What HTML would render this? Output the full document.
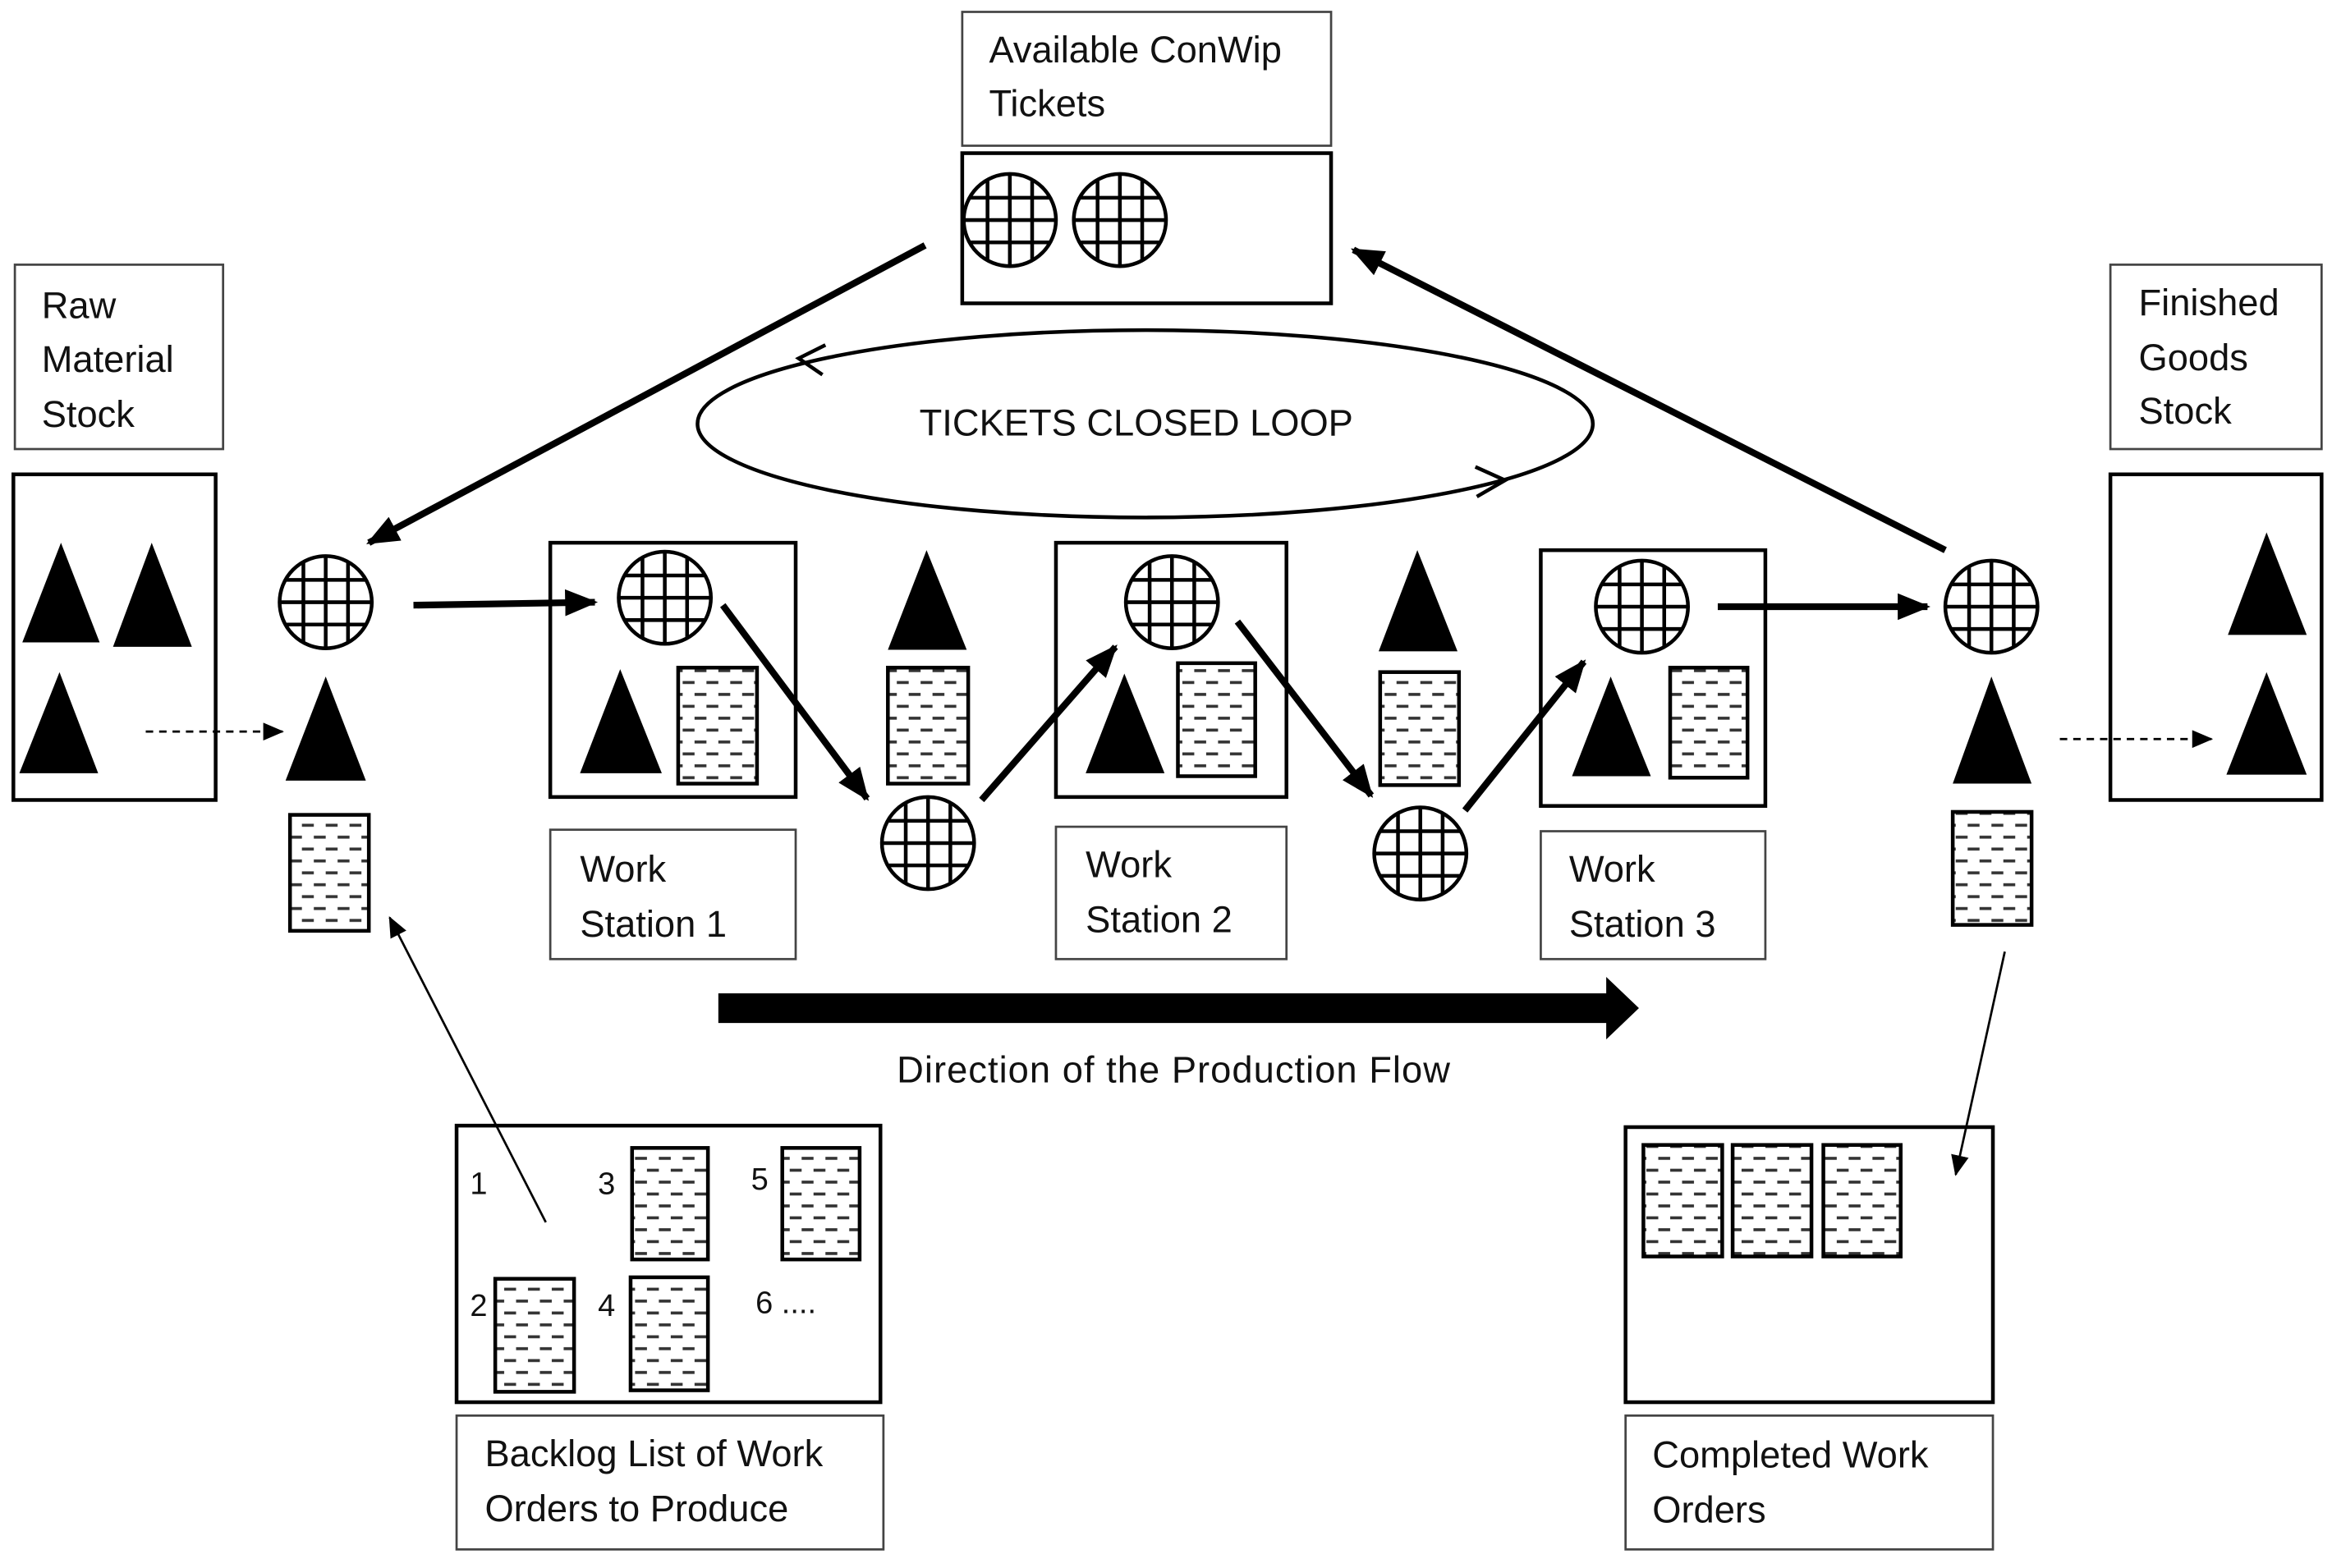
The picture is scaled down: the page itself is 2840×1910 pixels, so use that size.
<!DOCTYPE html>
<html><head><meta charset="utf-8"><style>html,body{margin:0;padding:0;background:#fff}svg{display:block}text{font-family:"Liberation Sans",sans-serif;font-size:25px;fill:#111}</style></head><body>
<svg width="2840" height="1910" viewBox="0 0 1568 1054.5" preserveAspectRatio="none" xmlns="http://www.w3.org/2000/svg">
<defs>
<clipPath id="cc"><circle cx="0" cy="0" r="30"/></clipPath>
<g id="tk"><circle r="31" fill="#fff" stroke="#000" stroke-width="2.5"/><g clip-path="url(#cc)" stroke="#000" stroke-width="2.5"><line x1="-15" y1="-40" x2="-15" y2="40"/><line x1="0" y1="-40" x2="0" y2="40"/><line x1="15" y1="-40" x2="15" y2="40"/><line y1="-15" x1="-40" y2="-15" x2="40"/><line y1="0" x1="-40" y2="0" x2="40"/><line y1="15" x1="-40" y2="15" x2="40"/></g></g>
<pattern id="dp" patternUnits="userSpaceOnUse" width="16" height="16"><rect x="3" y="2" width="8" height="2" fill="#333"/><rect x="-5" y="10" width="8" height="2" fill="#333"/><rect x="11" y="10" width="8" height="2" fill="#333"/></pattern>
<marker id="ahb" markerWidth="22" markerHeight="18" refX="20" refY="9" orient="auto" markerUnits="userSpaceOnUse"><path d="M0,0 L22,9 L0,18 z"/></marker>
<marker id="ahs" markerWidth="14" markerHeight="12" refX="13" refY="6" orient="auto" markerUnits="userSpaceOnUse"><path d="M0,0 L14,6 L0,12 z"/></marker>
</defs>
<g fill="none" stroke="#444" stroke-width="1.5">
<rect x="647" y="8" width="248" height="90"/>
<rect x="10" y="178" width="140" height="124"/>
<rect x="1419" y="178" width="142" height="124"/>
<rect x="370" y="558" width="165" height="87"/>
<rect x="710" y="556" width="155" height="89"/>
<rect x="1036" y="559" width="151" height="86"/>
<rect x="307" y="952" width="287" height="90"/>
<rect x="1093" y="952" width="247" height="90"/>
</g>
<g fill="none" stroke="#000" stroke-width="2.5">
<rect x="647" y="103" width="248" height="101"/>
<rect x="9" y="319" width="136" height="219"/>
<rect x="1419" y="319" width="142" height="219"/>
<rect x="370" y="365" width="165" height="171"/>
<rect x="710" y="365" width="155" height="171"/>
<rect x="1036" y="370" width="151" height="172"/>
<rect x="307" y="757" width="285" height="186"/>
<rect x="1093" y="758" width="247" height="185"/>
<ellipse cx="770" cy="285" rx="301" ry="63"/>
<path d="M555,232 L537,241 L553,252"/>
<path d="M992,314 L1012,323 L993,334"/>
</g>
<text x="665" y="42">Available ConWip</text><text x="665" y="78">Tickets</text>
<text x="28" y="214">Raw</text><text x="28" y="250">Material</text><text x="28" y="287">Stock</text>
<text x="1438" y="212">Finished</text><text x="1438" y="249">Goods</text><text x="1438" y="285">Stock</text>
<text x="764" y="293" text-anchor="middle">TICKETS CLOSED LOOP</text>
<text x="390" y="593">Work</text><text x="390" y="630">Station 1</text>
<text x="730" y="590">Work</text><text x="730" y="627">Station 2</text>
<text x="1055" y="593">Work</text><text x="1055" y="630">Station 3</text>
<text x="603" y="728" textLength="372">Direction of the Production Flow</text>
<text x="326" y="986">Backlog List of Work</text><text x="326" y="1023">Orders to Produce</text>
<text x="1111" y="987">Completed Work</text><text x="1111" y="1024">Orders</text>
<text x="316" y="803" style="font-size:21px">1</text><text x="402" y="803" style="font-size:21px">3</text><text x="505" y="800" style="font-size:21px">5</text>
<text x="316" y="885" style="font-size:21px">2</text><text x="402" y="885" style="font-size:21px">4</text><text x="508" y="883" style="font-size:21px">6 ....</text>
<g fill="#000">
<path d="M15,432 L41,365 L67,432z"/><path d="M76,435 L102,365 L129,435z"/><path d="M13,520 L40,452 L66,520z"/>
<path d="M1498,427 L1524,358 L1551,427z"/><path d="M1497,521 L1524,452 L1551,521z"/>
<path d="M192,525 L219,455 L246,525z"/>
<path d="M390,520 L417,450 L445,520z"/>
<path d="M597,437 L623,370 L650,437z"/>
<path d="M730,520 L756,453 L783,520z"/>
<path d="M927,438 L953,370 L980,438z"/>
<path d="M1057,522 L1083,455 L1110,522z"/>
<path d="M1313,527 L1339,455 L1366,527z"/>
<path d="M483,668 L1080,668 L1080,657 L1102,678 L1080,699 L1080,688 L483,688z"/>
</g>
<g fill="url(#dp)" stroke="#000" stroke-width="2.5">
<rect x="195" y="548" width="53" height="78"/>
<rect x="456" y="449" width="53" height="78"/>
<rect x="597" y="449" width="54" height="78"/>
<rect x="792" y="446" width="52" height="76"/>
<rect x="928" y="452" width="53" height="76"/>
<rect x="1123" y="449" width="52" height="74"/>
<rect x="1313" y="546" width="53" height="76"/>
<rect x="425" y="772" width="51" height="75"/>
<rect x="526" y="772" width="52" height="75"/>
<rect x="333" y="860" width="53" height="76"/>
<rect x="424" y="859" width="52" height="76"/>
<rect x="1105" y="770" width="53" height="75"/>
<rect x="1165" y="770" width="53" height="75"/>
<rect x="1226" y="770" width="52" height="75"/>
</g>
<use href="#tk" x="679" y="148"/><use href="#tk" x="753" y="148"/>
<use href="#tk" x="219" y="405"/><use href="#tk" x="447" y="402"/><use href="#tk" x="624" y="567"/>
<use href="#tk" x="788" y="405"/><use href="#tk" x="955" y="574"/><use href="#tk" x="1104" y="408"/><use href="#tk" x="1339" y="408"/>
<g stroke="#000" stroke-width="4.5" marker-end="url(#ahb)">
<line x1="622" y1="165" x2="248" y2="365"/>
<line x1="1308" y1="370" x2="910" y2="168"/>
<line x1="278" y1="407" x2="400" y2="405"/>
<line x1="486" y1="407" x2="583" y2="537"/>
<line x1="660" y1="538" x2="750" y2="435"/>
<line x1="832" y1="418" x2="922" y2="535"/>
<line x1="985" y1="545" x2="1065" y2="445"/>
<line x1="1155" y1="408" x2="1296" y2="408"/>
</g>
<g stroke="#000" stroke-width="1.5" stroke-dasharray="5,4" marker-end="url(#ahs)">
<line x1="98" y1="492" x2="190" y2="492"/>
<line x1="1385" y1="497" x2="1487" y2="497"/>
</g>
<g stroke="#000" stroke-width="1.5" marker-end="url(#ahs)">
<line x1="367" y1="822" x2="262" y2="617"/>
<line x1="1348" y1="640" x2="1315" y2="790"/>
</g>
</svg>
</body></html>
